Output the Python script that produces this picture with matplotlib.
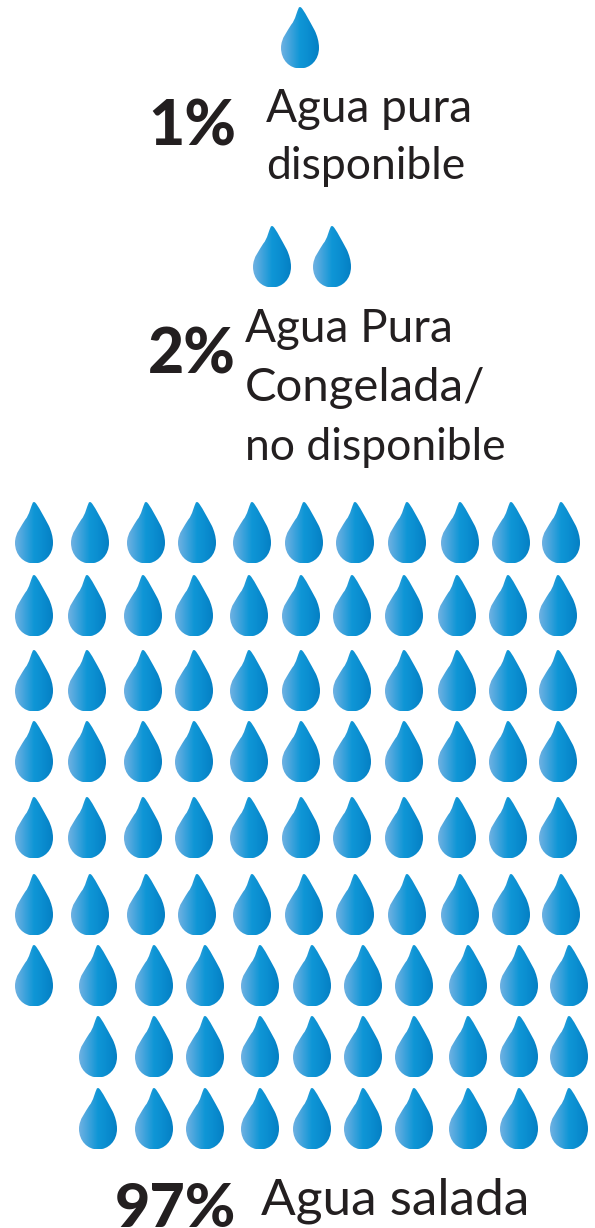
import numpy as np
import matplotlib
matplotlib.use("Agg")
import matplotlib.pyplot as plt
from matplotlib.path import Path
from matplotlib.patches import PathPatch
from matplotlib.colors import LinearSegmentedColormap

# data
percents = ["1%", "2%", "97%"]
drop_counts = [1, 2, 97]
labels = [["Agua pura", "disponible"],
          ["Agua Pura", "Congelada/", "no disponible"],
          ["Agua salada"]]

# layout in image pixels
W, H = 595, 1228
DROP_W, DROP_H = 38, 61
top_rows = [(38, [300]), (257, [272, 332])]
xa = [34, 90, 146, 197, 252, 304, 355, 407, 460, 511, 561]
xb = [34, 87, 143, 194, 249, 301, 352, 404, 457, 508, 558]
xc = [34, 98, 154, 205, 260, 312, 363, 414, 468, 519, 569]
xd = xc[1:]
grid_rows = [(533, xa), (606, xb), (681, xb), (752, xb), (828, xb),
             (905, xa), (976, xc), (1047, xd), (1119, xd)]
pct_pos = [(148, 146), (148, 374), (115, 1227)]
pct_size = [45, 45, 44]
label_pos = [[(266, 122), (266, 179)],
             [(245, 342), (245, 401), (245, 460)],
             [(261, 1215)]]
label_size = [[33, 32], [33, 34, 32], [37]]

INK = "#231f20"
cmap = LinearSegmentedColormap.from_list(
    "drop", ["#6fb1e2", "#3fa3dc", "#0f96d6", "#0a8ccf", "#0580c4"])
grad = np.linspace(0, 1, 64).reshape(1, -1)

# unit drop, x in -1..1, y 0 (tip) to 1 (bottom)
drop_verts = [(-0.06, 0.0),
              (-0.16, 0.06), (-0.24, 0.20), (-0.46, 0.28),
              (-0.64, 0.38), (-1.0, 0.50), (-1.0, 0.66),
              (-1.0, 0.86), (-0.55, 1.0), (0.0, 1.0),
              (0.55, 1.0), (1.0, 0.86), (1.0, 0.66),
              (1.0, 0.56), (0.90, 0.46), (0.78, 0.38),
              (0.50, 0.22), (0.22, 0.05), (0.06, 0.0),
              (0.02, -0.01), (-0.02, -0.01), (-0.06, 0.0)]
drop_codes = [Path.MOVETO] + [Path.CURVE4] * 21


def draw_drop(ax, cx, cy):
    x0, x1 = cx - DROP_W / 2, cx + DROP_W / 2
    y0 = cy - DROP_H / 2
    verts = [(cx + vx * DROP_W / 2, y0 + vy * DROP_H) for vx, vy in drop_verts]
    im = ax.imshow(grad, cmap=cmap, extent=(x0, x1, y0 + DROP_H, y0),
                   aspect="auto", interpolation="bilinear", zorder=2)
    patch = PathPatch(Path(verts, drop_codes), fc="none", ec="none",
                      transform=ax.transData)
    ax.add_patch(patch)
    im.set_clip_path(patch)


fig = plt.figure(figsize=(W / 100, H / 100), dpi=100)
ax = fig.add_axes([0, 0, 1, 1])

for cy, xs in top_rows + grid_rows:
    for cx in xs:
        draw_drop(ax, cx, cy)

for i in range(len(percents)):
    x, y = pct_pos[i]
    ax.text(x, y, percents[i], fontsize=pct_size[i], fontweight="black",
            family=["Lato", "DejaVu Sans"], color=INK, va="baseline", ha="left")
    for line, (lx, ly), size in zip(labels[i], label_pos[i], label_size[i]):
        ax.text(lx, ly, line, fontsize=size,
                family=["Lato", "DejaVu Sans"], color=INK, va="baseline", ha="left")

ax.set_xlim(0, W)
ax.set_ylim(H, 0)
ax.axis("off")
fig.savefig("out.png", dpi=100, facecolor="white")
